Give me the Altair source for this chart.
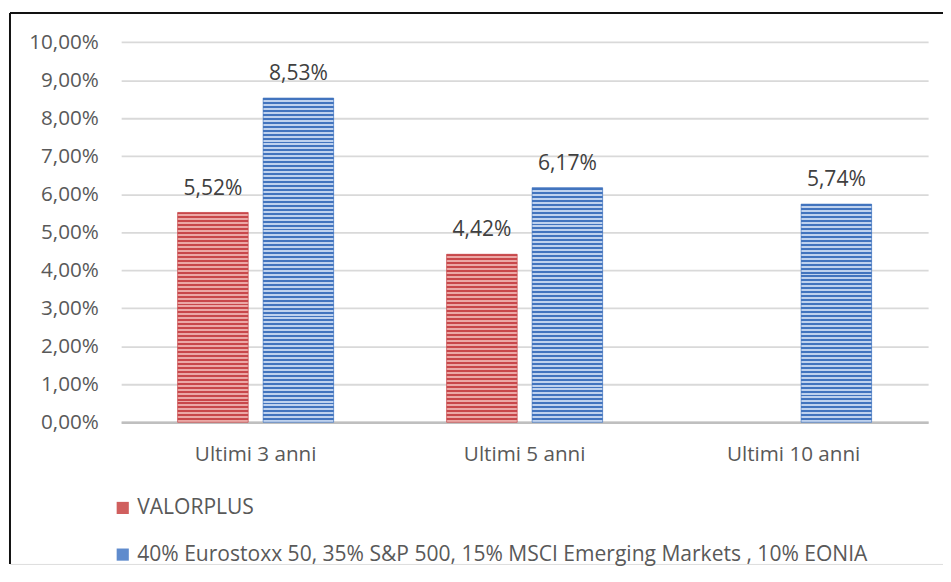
import altair as alt
import pandas as pd

# ---- data ----
periods = ["Ultimi 3 anni", "Ultimi 5 anni", "Ultimi 10 anni"]
series_names = ["VALORPLUS",
                "40% Eurostoxx 50, 35% S&P 500, 15% MSCI Emerging Markets , 10% EONIA"]
valorplus = [5.52, 4.42, None]
benchmark = [8.53, 6.17, 5.74]
y_ticks = [0, 1, 2, 3, 4, 5, 6, 7, 8, 9, 10]

rows = []
for i, p in enumerate(periods):
    for s, vals in zip(series_names, [valorplus, benchmark]):
        v = vals[i]
        if v is None:
            continue
        rows.append({"periodo": p, "serie": s, "valore": v,
                     "key": f"{i}-{series_names.index(s)}",
                     "label": f"{v:.2f}%".replace(".", ",")})
df = pd.DataFrame(rows)

# ---- style ----
FONT = "Open Sans"
FS = 20.8
W, H = 940, 555
red_dark, red_light = "#c8474a", "#eba8a6"
blue_dark, blue_light = "#4274be", "#bfd2ee"
red_mid, blue_mid = "#d05f5e", "#5f8bcd"


def stripes(dark, light, n):
    stops = []
    for k in range(n):
        a = k / n
        b = (k + 0.5) / n
        c = (k + 1) / n
        stops += [alt.GradientStop(offset=a, color=dark),
                  alt.GradientStop(offset=b, color=dark),
                  alt.GradientStop(offset=b, color=light),
                  alt.GradientStop(offset=c, color=light)]
    return alt.LinearGradient(gradient="linear", stops=stops, x1=0, x2=0, y1=0, y2=1)


x_enc = alt.X("periodo:N", sort=periods,
              scale=alt.Scale(domain=periods, range=[112, 925],
                              paddingInner=0.42, paddingOuter=0.21),
              axis=alt.Axis(title=None, labelFont=FONT, labelFontSize=FS,
                            labelColor="#595959", labelPadding=22,
                            ticks=False, domainColor="#bfbfbf", domainWidth=2.5,
                            grid=False, offset=412.3 - H, labelAngle=0))
xo_enc = alt.XOffset("serie:N", sort=series_names,
                     scale=alt.Scale(domain=series_names, paddingInner=0.1744,
                                     paddingOuter=0))
y_enc = alt.Y("valore:Q",
              scale=alt.Scale(domain=[0, 10], range=[412.3, 29.3], nice=False),
              axis=alt.Axis(title=None, values=y_ticks, labelFont=FONT,
                            labelFontSize=FS, labelColor="#595959",
                            labelExpr="replace(format(datum.value, '.2f'), '.', ',') + '%'",
                            ticks=False, tickSize=0, domain=False, labelPadding=23,
                            offset=-112, gridColor="#d9d9d9", gridWidth=1.8))

base = alt.Chart(df).encode(x=x_enc, xOffset=xo_enc, y=y_enc)

solid = base.mark_bar(stroke=None).encode(
    color=alt.Color("serie:N", sort=series_names,
                    scale=alt.Scale(domain=series_names, range=[red_mid, blue_mid]),
                    legend=alt.Legend(title=None, orient="none", legendX=103,
                                      legendY=488, direction="vertical",
                                      symbolType="square", symbolSize=150,
                                      symbolStrokeWidth=0,
                                      labelFont=FONT, labelFontSize=21.2,
                                      labelColor="#595959", labelLimit=2000,
                                      labelOffset=4, rowPadding=25, padding=0))
)

layers = [solid]
for _, r in df.iterrows():
    is_red = r["serie"] == series_names[0]
    n = int(round(r["valore"] * 9.6))
    g = stripes(red_dark if is_red else blue_dark, red_light if is_red else blue_light, n)
    layers.append(
        base.transform_filter(alt.datum.key == r["key"]).mark_bar(
            fill=g, stroke=red_dark if is_red else blue_dark, strokeWidth=1,
            strokeOpacity=0.6)
    )

labels = base.mark_text(font=FONT, fontSize=21.2, color="#404040",
                        baseline="alphabetic", dy=-18).encode(text="label:N")
layers.append(labels)

frame_data = alt.Data(values=[{"a": 1}])
top_line = alt.Chart(frame_data).mark_rule(color="#111111", strokeWidth=2).encode(
    x=alt.value(0), x2=alt.value(W), y=alt.value(0))
left_line = alt.Chart(frame_data).mark_rule(color="#111111", strokeWidth=2).encode(
    x=alt.value(0), y=alt.value(0), y2=alt.value(H))
layers += [top_line, left_line]

chart = alt.layer(*layers).properties(
    width=W, height=H,
    autosize=alt.AutoSizeParams(type="none"),
    padding={"left": 2, "top": 3, "right": 0, "bottom": 0},
).configure_view(stroke=None).configure(background="white")

chart.save("out.html", embed_options={"renderer": "svg", "actions": False})
